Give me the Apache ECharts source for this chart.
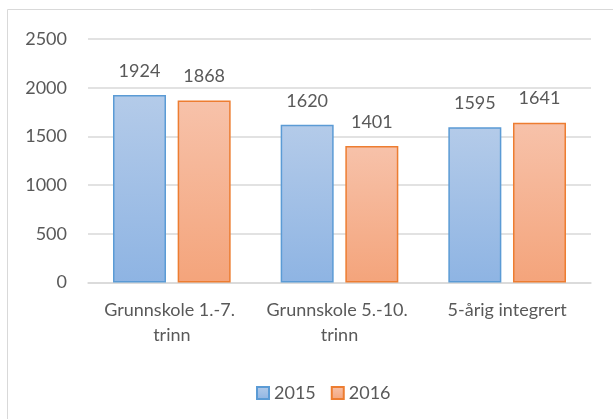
<!DOCTYPE html>
<html><head><meta charset="utf-8">
<script src="https://cdn.jsdelivr.net/npm/echarts@6/dist/echarts.min.js"></script>
<style>html,body{margin:0;padding:0;background:#fff}#c{width:613px;height:419px}</style>
</head><body><div id="c"></div>
<script>
const categories = ['Grunnskole 1.-7. trinn', 'Grunnskole 5.-10. trinn', '5-årig integrert'];
const seriesNames = ['2015', '2016'];
const values2015 = [1924, 1620, 1595];
const values2016 = [1868, 1401, 1641];
const yTicks = { min: 0, max: 2500, interval: 500 };

const FONT = 'Lato';
const FS = 18;
const TXT = '#595959';
function grad(top, bottom) {
  return new echarts.graphic.LinearGradient(0, 0, 0, 1, [
    { offset: 0, color: top }, { offset: 1, color: bottom }]);
}
const chart = echarts.init(document.getElementById('c'), null, { renderer: 'canvas' });
const labelCfg = { show: true, position: 'top', distance: 14, color: TXT, fontFamily: FONT, fontSize: FS, lineHeight: 20 };
chart.setOption({
  animation: false,
  textStyle: { fontFamily: FONT },
  graphic: [{ type: 'rect', shape: { x: 7.5, y: 9.5, width: 700, height: 500 },
    style: { fill: 'none', stroke: '#d9d9d9', lineWidth: 1 }, silent: true, z: -1 }],
  grid: { left: 88, right: 22, top: 39, bottom: 136.5, containLabel: false },
  legend: {
    data: seriesNames, left: 251, top: 379, itemWidth: 12, itemHeight: 12, itemGap: 15,
    icon: 'rect',
    textStyle: { color: TXT, fontFamily: FONT, fontSize: FS, padding: [0, 0, 0, 0] },
  },
  xAxis: {
    type: 'category', data: categories,
    axisTick: { show: false },
    axisLine: { lineStyle: { color: '#d9d9d9', width: 1.5 } },
    axisLabel: { color: TXT, fontFamily: FONT, fontSize: FS, lineHeight: 25, margin: 15,
      width: 160, overflow: 'break', interval: 0 },
  },
  yAxis: {
    type: 'value', min: yTicks.min, max: yTicks.max, interval: yTicks.interval,
    axisLine: { show: false }, axisTick: { show: false },
    splitLine: { lineStyle: { color: '#d9d9d9', width: 1.5 } },
    axisLabel: { color: TXT, fontFamily: FONT, fontSize: FS, margin: 21, formatter: v => String(v) },
  },
  series: [
    { name: seriesNames[0], type: 'bar', data: values2015, barWidth: 53, barGap: '22%',
      itemStyle: { color: grad('#b4cbe9', '#8eb4e3'), borderColor: '#5b9bd5', borderWidth: 1.5 },
      label: labelCfg },
    { name: seriesNames[1], type: 'bar', data: values2016, barWidth: 53, barGap: '22%',
      itemStyle: { color: grad('#f7c2aa', '#f4a47b'), borderColor: '#ed7d31', borderWidth: 1.5 },
      label: labelCfg },
  ],
});
</script></body></html>
